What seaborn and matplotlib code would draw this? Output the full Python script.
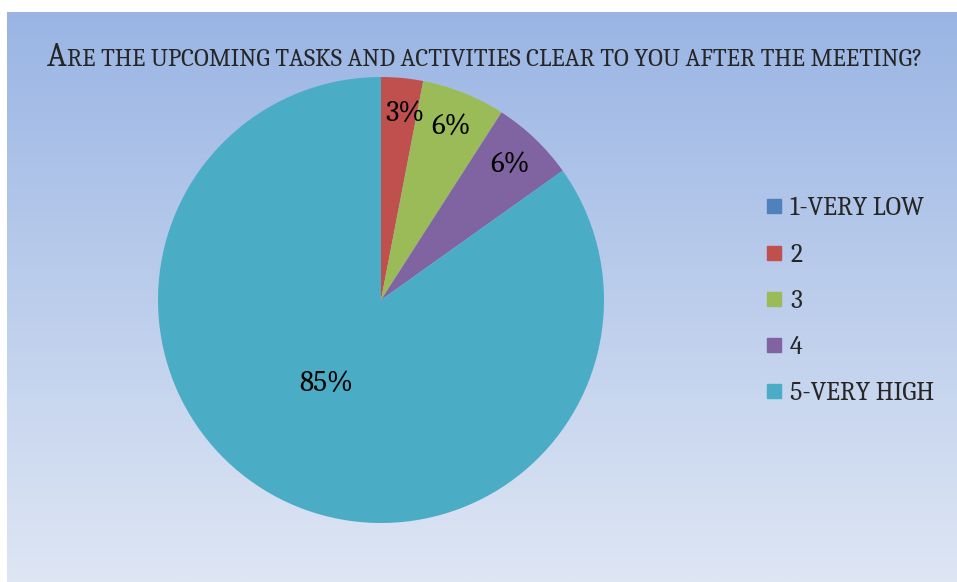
import numpy as np
import matplotlib
matplotlib.use("Agg")
import matplotlib.pyplot as plt
from matplotlib.lines import Line2D
import seaborn as sns

# ---- data ----
categories = ["1-VERY LOW", "2", "3", "4", "5-VERY HIGH"]
counts = [0, 1, 2, 2, 28]
title_text = "Are the upcoming tasks and activities clear to you after the meeting?"
colors_hex = ["#4F81BD", "#C0504D", "#9BBB59", "#8064A2", "#4BACC6"]

sns.set_theme(style="white")
plt.rcParams["font.family"] = ["Caladea", "Liberation Serif", "DejaVu Serif"]

W, H = 957, 582
fig = plt.figure(figsize=(W / 100, H / 100), dpi=100)
fig.patch.set_facecolor("white")

# gradient background of chart area
bg = fig.add_axes([7 / W, 0, (W - 7) / W, (H - 12) / H])
top = np.array([154, 181, 228]) / 255
bot = np.array([222, 230, 244]) / 255
t = np.linspace(0, 1, 256)[:, None]
grad = top[None, :] * (1 - t) + bot[None, :] * t
bg.imshow(grad[:, None, :], aspect="auto", extent=[0, 1, 0, 1])
bg.set_axis_off()

# pie
cx, cy, r = 381, 300, 223
ax = fig.add_axes([(cx - r) / W, (H - cy - r) / H, 2 * r / W, 2 * r / H])
ax.set_facecolor("none")
palette = sns.color_palette(colors_hex)
wedges, texts, autotexts = ax.pie(
    counts,
    colors=palette,
    startangle=90,
    counterclock=False,
    autopct=lambda p: f"{p:.0f}%" if p >= 0.5 else "",
    pctdistance=0.84,
    textprops=dict(fontsize=21, color="black"),
    wedgeprops=dict(linewidth=0),
)
# big slice label sits closer to centre (best-fit placement)
total = sum(counts)
for v, at in zip(counts, autotexts):
    x, y = at.get_position()
    if v / total > 0.5:
        at.set_position((x * 0.42 / 0.84 - 0.055, y * 0.42 / 0.84))
    elif v / total < 0.04 and v > 0:
        at.set_position((x + 0.03, y))
ax.set_xlim(-1, 1)
ax.set_ylim(-1, 1)
ax.set_aspect("equal")
ax.set_axis_off()

# legend
handles = [Line2D([0], [0], marker="s", linestyle="none", markersize=10.5,
                  markerfacecolor=c, markeredgecolor=c) for c in palette]
fig.legend(handles, categories, loc="center left",
           bbox_to_anchor=(753 / W, 1 - 301 / H), frameon=False,
           fontsize=18.5, handlelength=0.6, handletextpad=0.35,
           labelspacing=0.81, borderpad=0)

# small-caps title
fig.canvas.draw()
renderer = fig.canvas.get_renderer()
big, small = 23.7, 17.8
runs = []
for ch in title_text:
    size = big if ch.isupper() else small
    if runs and runs[-1][1] == size:
        runs[-1][0] += ch.upper()
    else:
        runs.append([ch.upper(), size])
pieces = []
total_w = 0
for s, size in runs:
    tt = fig.text(0, 1 - 66 / H, s, fontsize=size, va="baseline", ha="left")
    w = tt.get_window_extent(renderer).width
    pieces.append((tt, w))
    total_w += w
x0 = 485 - total_w / 2
for tt, w in pieces:
    tt.set_x(x0 / W)
    x0 += w

fig.savefig("out.png", dpi=100)
